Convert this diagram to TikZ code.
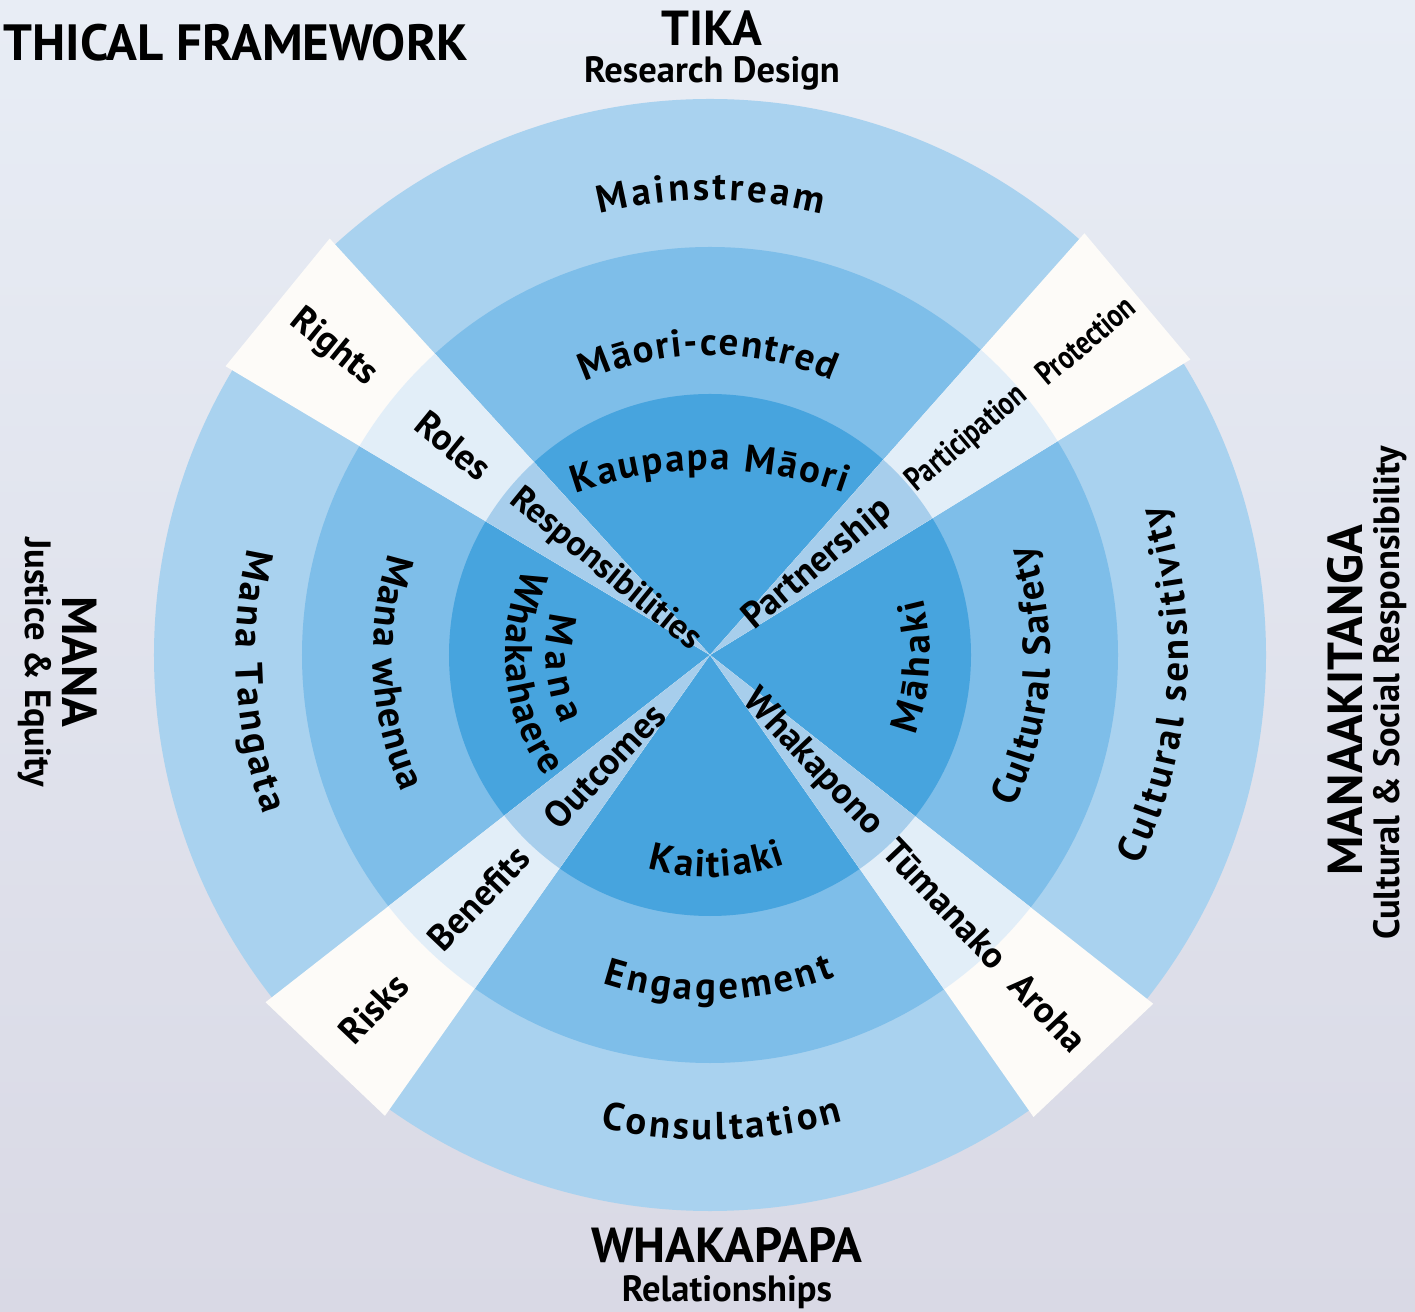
\documentclass[tikz,border=0pt]{standalone}
\usepackage{fontspec}
\setmainfont{PT Sans}
\usepackage{graphicx}
\usetikzlibrary{decorations.text}

\definecolor{paperTop}{HTML}{E8EDF5}
\definecolor{paperBot}{HTML}{D9D9E5}
\definecolor{ringA}{HTML}{A9D2EF}
\definecolor{ringB}{HTML}{7EBEE9}
\definecolor{ringC}{HTML}{47A4DE}
\definecolor{bandA}{HTML}{FDFBF8}
\definecolor{bandB}{HTML}{E2EEF8}
\definecolor{bandC}{HTML}{A7CEEC}

\tikzset{
  heading/.style={font=\fontsize{14}{16}\selectfont\bfseries, inner sep=0pt},
  subhead/.style={font=\fontsize{10.4}{12}\selectfont\bfseries, inner sep=0pt},
  spoke/.style={font=\fontsize{10.5}{12}\selectfont\bfseries, inner sep=0pt},
  narrow/.style={font=\fontsize{9.5}{11}\selectfont\bfseries, inner sep=0pt},
  ringtext/.style={decorate, decoration={text along path, text align={fit to path},
      text={|\fontsize{11}{13}\selectfont\bfseries|#1}}}
}

\begin{document}
\begin{tikzpicture}

\useasboundingbox (-7.10,-6.56) rectangle (7.05,6.55);
\shade[top color=paperTop, bottom color=paperBot] (-7.10,-6.56) rectangle (7.05,6.55);

% rings
\fill[ringA] (0,0) circle (5.56);
\fill[ringB] (0,0) circle (4.08);
\fill[ringC] (0,0) circle (2.61);

% spokes
\foreach \a in {40,140.8,226.4,313.4}{%
     \fill[bandA] (0,0) -- ({\a-8.4}:5.64) -- ({\a+8.4}:5.64) -- cycle;
}
\begin{scope}
  \clip (0,0) circle (4.08);
  \foreach \a in {40,140.8,226.4,313.4}{%
       \fill[bandB] (0,0) -- ({\a-8.4}:5.64) -- ({\a+8.4}:5.64) -- cycle;
  }
\end{scope}
\begin{scope}
  \clip (0,0) circle (2.61);
  \foreach \a in {40,140.8,226.4,313.4}{%
       \fill[bandC] (0,0) -- ({\a-8.4}:5.64) -- ({\a+8.4}:5.64) -- cycle;
  }
\end{scope}

% ring names
\path[ringtext=Mainstream] (104:4.55) arc[start angle=104, end angle=75.8, radius=4.55];
\path[ringtext=Māori-centred] (114.6:3.00) arc[start angle=114.6, end angle=66, radius=3.00];
\path[ringtext={Kaupapa Māori}] ([shift={(0,-2.15)}]109.7:4.0) arc[start angle=109.7, end angle=70.3, radius=4.0];

\path[ringtext=Consultation] (256.9:4.85) arc[start angle=256.9, end angle=285.9, radius=4.85];
\path[ringtext=Engagement] (251.9:3.45) arc[start angle=251.9, end angle=291.2, radius=3.45];
\path[ringtext=Kaitiaki] (253.8:2.22) arc[start angle=253.8, end angle=289.8, radius=2.22];

\path[ringtext={Mana Tangata}] (167:4.74) arc[start angle=167, end angle=199.7, radius=4.74];
\path[ringtext={Mana whenua}] (162.4:3.37) arc[start angle=162.4, end angle=204, radius=3.37];
\path[ringtext=Mana] (165:1.64) arc[start angle=165, end angle=205, radius=1.64];
\path[ringtext=Whakahaere] (155:2.05) arc[start angle=155, end angle=216.5, radius=2.05];

\path[ringtext={Cultural sensitivity}] (-26.1:4.78) arc[start angle=-26.1, end angle=18.3, radius=4.78];
\path[ringtext={Cultural Safety}] (-26.7:3.40) arc[start angle=-26.7, end angle=18.9, radius=3.40];
\path[ringtext=Māhaki] (-21.3:2.20) arc[start angle=-21.3, end angle=15, radius=2.20];

% spoke names
\node[spoke, rotate=-39.2] (rights) at (140.8:4.86) {Rights};
\node[spoke, rotate=-39.2] (roles) at (140.8:3.31) {Roles};
\node[spoke, rotate=-39.2, font=\fontsize{10}{12}\selectfont\bfseries] (resp) at (140.8:1.35) {Responsibilities};

\node[spoke, rotate=40] (partner) at (40:1.41) {Partnership};
\node[narrow, rotate=40] (partic) at (40:3.36) {\scalebox{0.8}[1]{Participation}};
\node[narrow, rotate=40] (protect) at (40:4.90) {\scalebox{0.8}[1]{Protection}};

\node[spoke, rotate=-46.6] (whakapono) at (313.4:1.49) {Whakapono};
\node[spoke, rotate=-46.6] (tumanako) at (313.4:3.43) {Tūmanako};
\node[spoke, rotate=-46.6] (aroha) at (313.4:4.92) {Aroha};

\node[spoke, rotate=46.4] (outcomes) at (226.4:1.53) {Outcomes};
\node[spoke, rotate=46.4] (benefits) at (226.4:3.36) {Benefits};
\node[spoke, rotate=46.4] (risks) at (226.4:4.88) {Risks};

% outer headings
\node[heading, anchor=west, font=\fontsize{14.5}{16}\selectfont\bfseries] (frame) at (-7.07,6.12) {THICAL FRAMEWORK};
\node[heading] (tika) at (0.02,6.27) {TIKA};
\node[subhead] (tikasub) at (0.02,5.82) {Research Design};
\node[heading] (whakapapa) at (0.17,-5.90) {WHAKAPAPA};
\node[subhead] (whakapapasub) at (0.17,-6.37) {Relationships};
\node[heading, rotate=-90] (mana) at (-6.30,-0.07) {MANA};
\node[subhead, rotate=-90] (manasub) at (-6.75,-0.07) {Justice \& Equity};
\node[heading, rotate=90] (manaaki) at (6.35,-0.45) {MANAAKITANGA};
\node[subhead, rotate=90] (manaakisub) at (6.80,-0.38) {Cultural \& Social Responsibility};

\end{tikzpicture}
\end{document}
